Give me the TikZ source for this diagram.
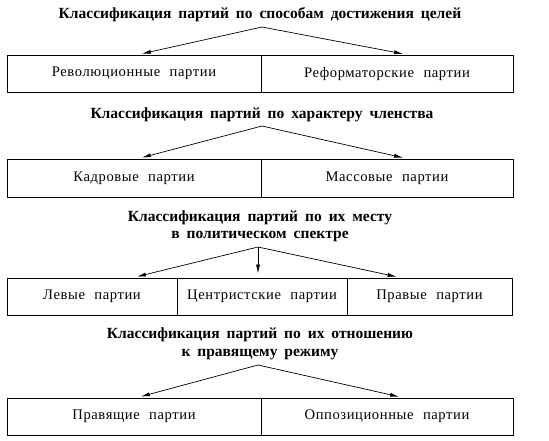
\documentclass[tikz,border=0pt]{standalone}
\usepackage{fontspec}
\setmainfont{Liberation Serif}
\newfontfamily\spacedfont[LetterSpace=4]{Liberation Serif}
\newcommand\headingfont{\fontsize{15.5}{17.5}\selectfont\bfseries\spaceskip 0.45em\relax}
\newcommand\cellfont{\spacedfont\fontsize{14.6}{16}\selectfont\spaceskip 0.65em\relax}
\usepackage{tikz}
\usetikzlibrary{arrows.meta,positioning}

\begin{document}
\begin{tikzpicture}[x=1pt, y=-1pt,
    heading/.style={font=\headingfont, align=center, inner sep=0pt},
    cell/.style={draw, line width=0.8pt, minimum height=37pt, inner sep=0pt, font=\cellfont},
    link/.style={line width=0.7pt, -{Latex[length=9pt,width=4pt]}, shorten >=4pt},
]
    \useasboundingbox (0,0) rectangle (549,440);
    % goals
    \node[heading] (goalT) at (260,15) {Классификация партий по способам достижения целей};
    \coordinate (goalA) at (262,27);
    \node[cell, minimum width=254pt] (revol) at (134,73.5) {Революционные партии};
    \node[cell, minimum width=252pt] (reform) at (387,73.5) {Реформаторские партии};
    \draw[link] (goalA) -- ([xshift=4pt]revol.north);
    \draw[link] (goalA) -- ([xshift=20pt]reform.north);
    % membership
    \node[heading] (memT) at (262,115) {Классификация партий по характеру членства};
    \coordinate (memA) at (262,126);
    \node[cell, minimum width=254pt, minimum height=38pt] (cadre) at (134,178) {Кадровые партии};
    \node[cell, minimum width=252pt, minimum height=38pt] (mass) at (387,178) {Массовые партии};
    \draw[link] (memA) -- ([xshift=4pt]cadre.north);
    \draw[link] (memA) -- ([xshift=20pt]mass.north);
    % spectrum
    \node[heading] (specT) at (260,226.5) {Классификация партий по их месту\\в политическом спектре};
    \coordinate (specA) at (258,247);
    \node[cell, minimum width=170pt] (left) at (92,296.5) {Левые партии};
    \node[cell, minimum width=170pt] (centre) at (262,296.5) {Центристские партии};
    \node[cell, minimum width=165pt] (right) at (429.5,296.5) {Правые партии};
    \draw[link] (specA) -- ([xshift=41pt]left.north);
    \draw[link] (specA) -- ([xshift=-4pt]centre.north);
    \draw[link] (specA) -- ([xshift=-29pt]right.north);
    % regime
    \node[heading] (regT) at (260,344) {Классификация партий по их отношению\\к правящему режиму};
    \coordinate (regA) at (258,365);
    \node[cell, minimum width=254pt] (ruling) at (134,416.5) {Правящие партии};
    \node[cell, minimum width=252pt] (oppos) at (387,416.5) {Оппозиционные партии};
    \draw[link] (regA) -- ([xshift=3pt]ruling.north);
    \draw[link] (regA) -- ([xshift=16pt]oppos.north);
\end{tikzpicture}
\end{document}
